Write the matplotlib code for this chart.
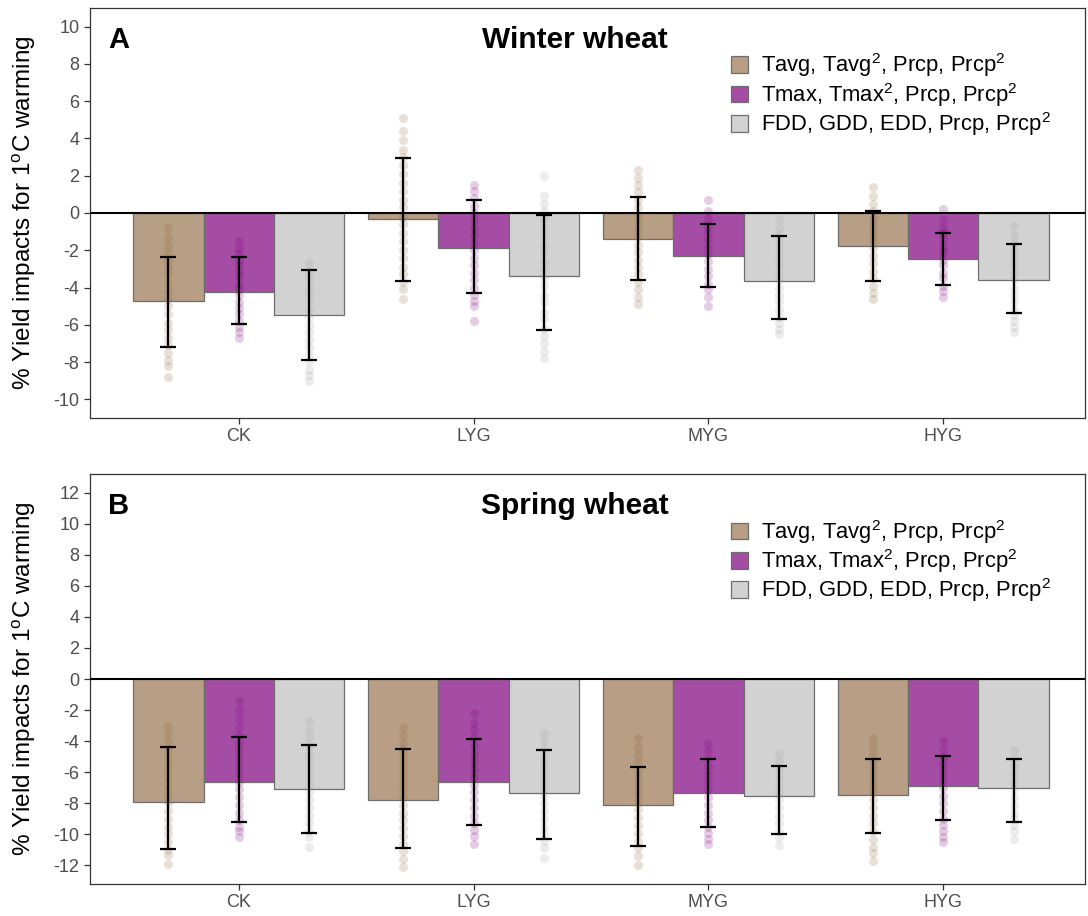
import matplotlib
matplotlib.use('Agg')
import matplotlib.pyplot as plt
from matplotlib.patches import Patch

plt.rcParams['font.family'] = ['Liberation Sans', 'DejaVu Sans']
plt.rcParams['mathtext.fontset'] = 'custom'
plt.rcParams['mathtext.rm'] = 'Liberation Sans'
plt.rcParams['mathtext.it'] = 'Liberation Sans:italic'

sites = ['CK', 'LYG', 'MYG', 'HYG']
models = ['Tavg, Tavg$^{2}$, Prcp, Prcp$^{2}$',
          'Tmax, Tmax$^{2}$, Prcp, Prcp$^{2}$',
          'FDD, GDD, EDD, Prcp, Prcp$^{2}$']

# winter wheat, one row per model (Tavg, Tmax, FDD), one value per site
winter_mean = [[-4.75, -0.34, -1.39, -1.77],
               [-4.22, -1.86, -2.32, -2.47],
               [-5.47, -3.40, -3.63, -3.59]]
winter_hi = [[-2.38, 2.97, 0.87, 0.09],
             [-2.38, 0.71, -0.59, -1.07],
             [-3.04, -0.12, -1.25, -1.68]]
winter_lo = [[-7.17, -3.66, -3.59, -3.63],
             [-5.97, -4.27, -3.98, -3.88],
             [-7.90, -6.26, -5.67, -5.38]]

# spring wheat
spring_mean = [[-7.95, -7.78, -8.08, -7.48],
               [-6.66, -6.66, -7.33, -6.88],
               [-7.11, -7.33, -7.56, -7.01]]
spring_hi = [[-4.35, -4.50, -5.64, -5.12],
             [-3.73, -3.84, -5.15, -4.95],
             [-4.22, -4.55, -5.57, -5.12]]
spring_lo = [[-10.96, -10.86, -10.75, -9.94],
             [-9.21, -9.40, -9.51, -9.08],
             [-9.90, -10.28, -10.00, -9.19]]

# individual estimates (faint dots) behind each bar
winter_tavg_pts = [
    [-0.8, -1.3, -1.7, -2.1, -2.5, -2.9, -3.3, -3.8, -4.2, -4.6, -5.0, -5.4, -5.9, -6.3, -6.7, -7.1, -7.5, -7.9, -8.2, -8.8],
    [5.1, 4.4, 3.9, 3.4, 3.0, 2.6, 2.1, 1.6, 1.2, 0.7, 0.3, -0.2, -0.6, -1.1, -1.5, -2.0, -2.4, -2.9, -3.3, -3.7, -4.1, -4.6],
    [2.3, 1.9, 1.5, 1.1, 0.7, 0.3, -0.1, -0.5, -0.9, -1.3, -1.7, -2.1, -2.5, -2.9, -3.3, -3.7, -4.1, -4.5, -4.9],
    [1.4, 0.9, 0.5, 0.1, -0.3, -0.7, -1.1, -1.5, -1.9, -2.3, -2.7, -3.1, -3.5, -3.9, -4.3, -4.6]]
winter_tmax_pts = [
    [-1.5, -1.9, -2.2, -2.5, -2.8, -3.1, -3.4, -3.8, -4.1, -4.4, -4.8, -5.1, -5.4, -5.8, -6.1, -6.4, -6.7],
    [1.5, 1.2, 0.8, 0.4, 0.0, -0.4, -0.8, -1.2, -1.6, -2.0, -2.4, -2.8, -3.2, -3.6, -4.0, -4.4, -4.7, -5.0, -5.8],
    [0.7, 0.1, -0.3, -0.7, -1.0, -1.4, -1.8, -2.2, -2.6, -3.0, -3.4, -3.8, -4.1, -4.5, -5.0],
    [0.2, -0.4, -0.8, -1.1, -1.4, -1.8, -2.1, -2.5, -2.8, -3.2, -3.5, -3.9, -4.2, -4.5]]
winter_fdd_pts = [
    [-2.7, -3.1, -3.5, -3.9, -4.3, -4.7, -5.2, -5.6, -6.0, -6.4, -6.8, -7.2, -7.6, -8.0, -8.4, -8.7, -9.0],
    [2.0, 0.9, 0.5, 0.1, -0.3, -0.8, -1.2, -1.7, -2.1, -2.6, -3.0, -3.5, -3.9, -4.4, -4.8, -5.3, -5.7, -6.2, -6.6, -7.0, -7.4, -7.8],
    [-0.3, -0.8, -1.2, -1.6, -2.0, -2.4, -2.8, -3.2, -3.6, -4.0, -4.4, -4.8, -5.2, -5.6, -5.9, -6.2, -6.5],
    [-0.7, -1.2, -1.6, -2.0, -2.4, -2.8, -3.2, -3.6, -4.0, -4.4, -4.8, -5.2, -5.5, -5.8, -6.1, -6.4]]

spring_tavg_pts = [
    [-3.0, -3.5, -4.0, -4.5, -5.0, -5.5, -6.0, -6.5, -7.0, -7.5, -8.0, -8.5, -9.0, -9.5, -10.0, -10.5, -11.0, -11.3, -11.9],
    [-3.1, -3.6, -4.1, -4.6, -5.1, -5.6, -6.1, -6.6, -7.1, -7.6, -8.1, -8.6, -9.1, -9.6, -10.1, -10.6, -11.1, -11.6, -12.1],
    [-3.8, -4.4, -4.9, -5.4, -5.9, -6.4, -6.9, -7.4, -7.9, -8.4, -8.9, -9.4, -9.9, -10.4, -10.9, -11.4, -12.0],
    [-3.8, -4.3, -4.8, -5.3, -5.8, -6.3, -6.8, -7.3, -7.8, -8.3, -8.8, -9.3, -9.8, -10.3, -10.8, -11.2, -11.7]]
spring_tmax_pts = [
    [-1.4, -2.0, -2.6, -3.1, -3.6, -4.1, -4.6, -5.1, -5.6, -6.1, -6.6, -7.1, -7.6, -8.1, -8.6, -9.1, -9.5, -9.8, -10.2],
    [-2.2, -2.8, -3.3, -3.8, -4.3, -4.8, -5.3, -5.8, -6.3, -6.8, -7.3, -7.8, -8.3, -8.8, -9.3, -9.7, -10.1, -10.6],
    [-4.1, -4.6, -5.1, -5.6, -6.1, -6.6, -7.1, -7.6, -8.1, -8.6, -9.1, -9.5, -9.9, -10.3, -10.6],
    [-4.0, -4.5, -5.0, -5.5, -6.0, -6.5, -7.0, -7.5, -8.0, -8.5, -9.0, -9.4, -9.8, -10.2, -10.5]]
spring_fdd_pts = [
    [-2.7, -3.3, -3.8, -4.3, -4.8, -5.3, -5.8, -6.3, -6.8, -7.3, -7.8, -8.3, -8.8, -9.3, -9.8, -10.2, -10.8],
    [-3.5, -4.0, -4.5, -5.0, -5.5, -6.0, -6.5, -7.0, -7.5, -8.0, -8.5, -9.0, -9.5, -10.0, -10.4, -10.9, -11.5],
    [-4.8, -5.3, -5.8, -6.3, -6.8, -7.3, -7.8, -8.3, -8.8, -9.3, -9.8, -10.2, -10.7],
    [-4.6, -5.1, -5.6, -6.1, -6.6, -7.1, -7.6, -8.1, -8.6, -9.0, -9.4, -9.8, -10.3]]

bar_colors = ['#B89E84', '#A54CA5', '#D2D2D2']
pt_colors = ['#8E6638', '#800080', '#A0A0A0']


def draw_panel(ax, mean, hi, lo, pts, letter, title, ylim, yticks):
    width = 0.3
    for m in range(3):
        xs = [i + 1 + (m - 1) * width for i in range(len(sites))]
        ax.bar(xs, mean[m], width, color=bar_colors[m], edgecolor='#6E6E6E',
               linewidth=0.9, zorder=2)
        for i, x in enumerate(xs):
            ax.plot([x] * len(pts[m][i]), pts[m][i], 'o', ms=6.5, mew=0,
                    color=pt_colors[m], alpha=0.2, zorder=3)
        mid = [(a + b) / 2. for a, b in zip(hi[m], lo[m])]
        err = [(a - b) / 2. for a, b in zip(hi[m], lo[m])]
        ax.errorbar(xs, mid, yerr=err, fmt='none', ecolor='black', elinewidth=1.6,
                    capsize=6, capthick=1.6, zorder=5)
    ax.axhline(0, color='black', lw=1.5, zorder=4)
    ax.set_xlim(0.366, 4.604)
    ax.set_ylim(*ylim)
    ax.set_xticks(range(1, len(sites) + 1))
    ax.set_xticklabels(sites)
    ax.set_yticks(yticks)
    ax.set_yticklabels(['%d' % t for t in yticks])
    ax.tick_params(colors='#333333', labelcolor='#4D4D4D', labelsize=13,
                   length=4, width=0.9)
    for s in ax.spines.values():
        s.set_color('#333333')
        s.set_linewidth(0.9)
    ax.set_ylabel('% Yield impacts for 1$^{\\mathrm{o}}$C warming', fontsize=17.5)
    ax.yaxis.set_label_coords(-0.052, 0.5)
    ax.text(0.018, 0.922, letter, transform=ax.transAxes, fontsize=21,
            fontweight='bold', ha='left', va='center')
    ax.text(0.487, 0.922, title, transform=ax.transAxes, fontsize=21.5,
            fontweight='bold', ha='center', va='center')
    handles = [Patch(facecolor=c, edgecolor='#6E6E6E', linewidth=0.9) for c in bar_colors]
    ax.legend(handles, models, loc='upper right', bbox_to_anchor=(0.975, 0.915),
              frameon=False, fontsize=15.8, handlelength=0.8, handleheight=0.8,
              handletextpad=0.6, labelspacing=0.06, borderaxespad=0.)


fig = plt.figure(figsize=(10.88, 9.16), dpi=100)
ax1 = fig.add_axes([0.0827, 0.5437, 0.9145, 0.4476])
ax2 = fig.add_axes([0.0827, 0.0349, 0.9145, 0.4476])

draw_panel(ax1, winter_mean, winter_hi, winter_lo,
           [winter_tavg_pts, winter_tmax_pts, winter_fdd_pts],
           'A', 'Winter wheat', (-11, 11), range(-10, 11, 2))
draw_panel(ax2, spring_mean, spring_hi, spring_lo,
           [spring_tavg_pts, spring_tmax_pts, spring_fdd_pts],
           'B', 'Spring wheat', (-13.2, 13.2), range(-12, 13, 2))

plt.savefig('out.png', dpi=100)
